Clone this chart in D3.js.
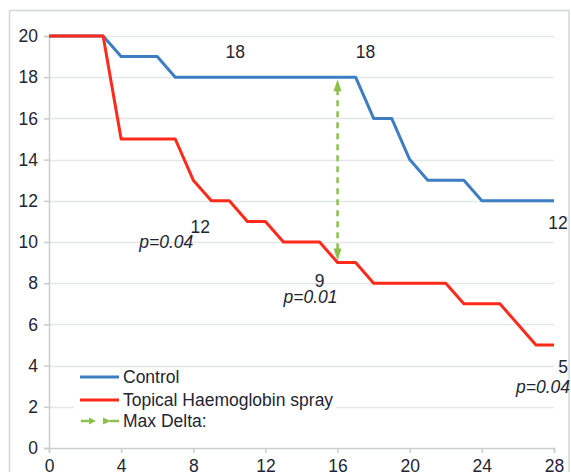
<!DOCTYPE html>
<html>
<head>
<meta charset="utf-8">
<script src="https://cdn.jsdelivr.net/npm/d3@7"></script>
<style>
  html, body { margin: 0; padding: 0; background: #fff; }
  svg { display: block; font-family: "Liberation Sans", Arial, sans-serif; }
</style>
</head>
<body>
<svg id="chart" width="571" height="472"></svg>
<script>
// Days and number of patients remaining in each arm
const controlDays = [0, 3, 4, 6, 7, 17, 18, 19, 20, 21, 23, 24, 28];
const controlValues = [20, 20, 19, 19, 18, 18, 16, 16, 14, 13, 13, 12, 12];
const sprayDays = [0, 3, 4, 7, 8, 9, 10, 11, 12, 13, 15, 16, 17, 18, 22, 23, 25, 27, 28];
const sprayValues = [20, 20, 15, 15, 13, 12, 12, 11, 11, 10, 10, 9, 9, 8, 8, 7, 7, 5, 5];
const xTicks = [0, 4, 8, 12, 16, 20, 24, 28];
const yTicks = [0, 2, 4, 6, 8, 10, 12, 14, 16, 18, 20];
const seriesNames = ["Control", "Topical Haemoglobin spray", "Max Delta:"];
const maxDeltaDay = 16;
// Annotated days for each arm, with p-values for the spray arm
const controlLabelDays = [10, 17, 28];
const sprayLabelDays = [9, 16, 28];
const sprayPValues = ["p=0.04", "p=0.01", "p=0.04"];

const colors = { control: "#3d7ec3", spray: "#ff2a1a", delta: "#8dc04a", text: "#1f2633" };
const fontSize = 17.5;

const svg = d3.select("#chart");
const x = d3.scaleLinear().domain([0, 28]).range([49, 554]);
const y = d3.scaleLinear().domain([0, 20]).range([448, 36]);

// Value of a series on a given day, following the drawn segments
function valueAt(days, values, d) {
  const i = d3.bisectLeft(days, d);
  if (days[i] === d) return values[i];
  const t = (d - days[i - 1]) / (days[i] - days[i - 1]);
  return values[i - 1] + t * (values[i] - values[i - 1]);
}

// Outer frame
svg.append("rect").attr("x", 9.5).attr("y", 10.5).attr("width", 559.5).attr("height", 480)
  .attr("fill", "none").attr("stroke", "#d2d6d8").attr("stroke-width", 1.5);

// Horizontal gridlines
svg.append("g").selectAll("line").data(yTicks.filter(t => t > 0)).join("line")
  .attr("x1", x(0)).attr("x2", x(28))
  .attr("y1", d => Math.round(y(d)) + 0.5).attr("y2", d => Math.round(y(d)) + 0.5)
  .attr("stroke", "#e4e6e8").attr("stroke-width", 1.5);

// Axes
const yAxis = svg.append("g").attr("transform", `translate(${x(0)},0)`)
  .call(d3.axisLeft(y).tickValues(yTicks).tickSize(5).tickPadding(6));
const xAxis = svg.append("g").attr("transform", `translate(0,${y(0)})`)
  .call(d3.axisBottom(x).tickValues(xTicks).tickSize(5).tickPadding(7));
[yAxis, xAxis].forEach(g => {
  g.select(".domain").attr("stroke", "#c7cdd1").attr("stroke-width", 1.5);
  g.selectAll(".tick line").attr("stroke", "#c7cdd1").attr("stroke-width", 1.5);
  g.selectAll(".tick text").attr("fill", colors.text).attr("font-size", fontSize)
    .attr("font-family", "Liberation Sans, Arial, sans-serif");
});

// Legend background (hides gridlines behind it)
svg.append("rect").attr("x", 74).attr("y", 369).attr("width", 262).attr("height", 62).attr("fill", "#fff");

// Series lines
const line = d3.line().x(d => x(d[0])).y(d => y(d[1]));
svg.append("path").datum(d3.zip(controlDays, controlValues))
  .attr("d", line).attr("fill", "none").attr("stroke", colors.control)
  .attr("stroke-width", 3).attr("stroke-linejoin", "round");
svg.append("path").datum(d3.zip(sprayDays, sprayValues))
  .attr("d", line).attr("fill", "none").attr("stroke", colors.spray)
  .attr("stroke-width", 3).attr("stroke-linejoin", "round");

// Max delta double arrow
const dx = x(maxDeltaDay);
const yTop = y(valueAt(controlDays, controlValues, maxDeltaDay));
const yBot = y(valueAt(sprayDays, sprayValues, maxDeltaDay));
svg.append("line").attr("x1", dx).attr("x2", dx).attr("y1", yTop + 12).attr("y2", yBot - 12)
  .attr("stroke", colors.delta).attr("stroke-width", 2.5).attr("stroke-dasharray", "6,5");
svg.append("path").attr("d", `M${dx},${yTop + 2}L${dx - 4},${yTop + 14}L${dx + 4},${yTop + 14}Z`)
  .attr("fill", colors.delta);
svg.append("path").attr("d", `M${dx},${yBot - 2}L${dx - 4},${yBot - 14}L${dx + 4},${yBot - 14}Z`)
  .attr("fill", colors.delta);

// Value annotations
const ann = svg.append("g").attr("fill", colors.text).attr("font-size", fontSize);
const ctrlOffsets = [[6, -19], [10, -19], [4, 28]];
controlLabelDays.forEach((d, i) => {
  const v = valueAt(controlDays, controlValues, d);
  ann.append("text").attr("text-anchor", "middle")
    .attr("x", x(d) + ctrlOffsets[i][0]).attr("y", y(v) + ctrlOffsets[i][1]).text(v);
});
const sprayOffsets = [[-11, 32], [-18, 24], [9, 28]];
const pOffsets = [[-45, 47], [-27, 40], [-11, 48]];
sprayLabelDays.forEach((d, i) => {
  const v = valueAt(sprayDays, sprayValues, d);
  ann.append("text").attr("text-anchor", "middle")
    .attr("x", x(d) + sprayOffsets[i][0]).attr("y", y(v) + sprayOffsets[i][1]).text(v);
  ann.append("text").attr("text-anchor", "middle").attr("font-style", "italic")
    .attr("x", x(d) + pOffsets[i][0]).attr("y", y(v) + pOffsets[i][1]).text(sprayPValues[i]);
});

// Legend
const lg = svg.append("g");
const lgY = [377, 400, 421];
lg.append("line").attr("x1", 80).attr("x2", 119).attr("y1", lgY[0]).attr("y2", lgY[0])
  .attr("stroke", colors.control).attr("stroke-width", 3);
lg.append("line").attr("x1", 80).attr("x2", 119).attr("y1", lgY[1]).attr("y2", lgY[1])
  .attr("stroke", colors.spray).attr("stroke-width", 3);
lg.append("line").attr("x1", 81).attr("x2", 90).attr("y1", lgY[2]).attr("y2", lgY[2])
  .attr("stroke", colors.delta).attr("stroke-width", 2.5);
lg.append("path").attr("d", `M96,${lgY[2]}L89,${lgY[2] - 3.5}L89,${lgY[2] + 3.5}Z`).attr("fill", colors.delta);
lg.append("path").attr("d", `M111,${lgY[2]}L103,${lgY[2] - 3.5}L103,${lgY[2] + 3.5}Z`).attr("fill", colors.delta);
lg.append("line").attr("x1", 110).attr("x2", 119).attr("y1", lgY[2]).attr("y2", lgY[2])
  .attr("stroke", colors.delta).attr("stroke-width", 2.5);
seriesNames.forEach((n, i) => {
  lg.append("text").attr("x", 123).attr("y", lgY[i] + 6).attr("font-size", fontSize)
    .attr("fill", colors.text).text(n);
});
</script>
</body>
</html>
